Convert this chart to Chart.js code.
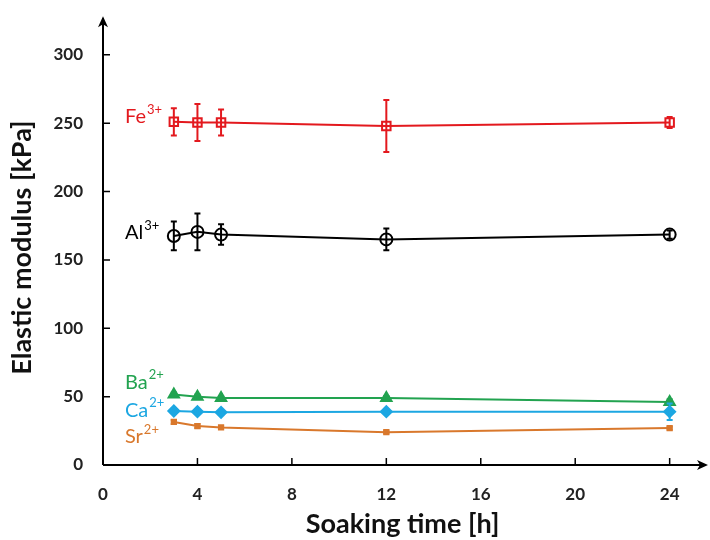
<!DOCTYPE html>
<html>
<head>
<meta charset="utf-8">
<script src="https://cdn.jsdelivr.net/npm/chart.js@4"></script>
<style>
  html, body { margin: 0; padding: 0; background: #fff; }
  #wrap { width: 710px; height: 540px; }
</style>
</head>
<body>
<div id="wrap"><canvas id="chart"></canvas></div>
<script>
const hours = [3, 4, 5, 12, 24];

const fe = [251, 250.5, 250.5, 248, 250.5];
const feErr = [10, 13.5, 9.5, 19, 4];
const al = [167.5, 170.5, 168.5, 165, 168.5];
const alErr = [10.5, 13.5, 7.5, 8, 3];
const ba = [51.5, 50, 49, 49, 46];
const baErr = [1.5, 1.5, 1.5, 1.5, 2];
const ca = [39.5, 39, 38.5, 39, 39];
const caErr = [1.5, 1.5, 1.5, 1.5, 6];
const sr = [31.5, 28.5, 27.5, 24, 27];
const srErr = [1.5, 1.5, 1, 1, 1];

const xTicks = [0, 4, 8, 12, 16, 20, 24];
const yTicks = [0, 50, 100, 150, 200, 250, 300];

// series label: [text, superscript, x value, y value]
const seriesLabels = [
    ['Fe', '3+', 0.93, 255],
    ['Al', '3+', 0.93, 170],
    ['Ba', '2+', 0.93, 60.5],
    ['Ca', '2+', 0.93, 40],
    ['Sr', '2+', 0.93, 20.5]
];

const colors = ['#e3191e', '#000000', '#22a350', '#1ca7e2', '#d9782c'];
const errs = [feErr, alErr, baErr, caErr, srErr];

function toPoints(vals) {
    return hours.map((h, i) => ({x: h, y: vals[i]}));
}

function makeSet(label, vals, color, style, radius, fill) {
    return {
        label: label,
        data: toPoints(vals),
        borderColor: color,
        backgroundColor: color,
        pointStyle: style,
        pointRadius: radius,
        pointBorderWidth: 2,
        pointBackgroundColor: fill ? color : 'rgba(255,255,255,0)',
        pointBorderColor: color,
        borderWidth: 2,
        tension: 0
    };
}

// error bars, axes with arrows, tick marks, series labels
const extras = {
    id: 'extras',
    afterDatasetsDraw(chart) {
        const ctx = chart.ctx;
        const xs = chart.scales.x, ys = chart.scales.y;
        ctx.save();
        chart.data.datasets.forEach((ds, di) => {
            ctx.strokeStyle = colors[di];
            ctx.lineWidth = 2;
            ds.data.forEach((p, i) => {
                const e = errs[di][i];
                const px = xs.getPixelForValue(p.x);
                const top = ys.getPixelForValue(p.y + e);
                const bot = ys.getPixelForValue(p.y - e);
                ctx.beginPath();
                ctx.moveTo(px, top); ctx.lineTo(px, bot);
                ctx.moveTo(px - 3, top); ctx.lineTo(px + 3, top);
                ctx.moveTo(px - 3, bot); ctx.lineTo(px + 3, bot);
                ctx.stroke();
            });
        });

        // axes, arrows reach a little past the chart area
        const ox = xs.getPixelForValue(0), oy = ys.getPixelForValue(0);
        const right = chart.chartArea.right + 6, top = chart.chartArea.top - 14;
        ctx.strokeStyle = '#000';
        ctx.fillStyle = '#000';
        ctx.lineWidth = 2;
        ctx.beginPath();
        ctx.moveTo(ox, oy); ctx.lineTo(right - 2, oy);
        ctx.moveTo(ox, oy); ctx.lineTo(ox, top + 2);
        ctx.stroke();
        ctx.beginPath();
        ctx.moveTo(right, oy); ctx.lineTo(right - 11, oy - 5); ctx.lineTo(right - 8, oy); ctx.lineTo(right - 11, oy + 5);
        ctx.closePath(); ctx.fill();
        ctx.beginPath();
        ctx.moveTo(ox, top); ctx.lineTo(ox - 5, top + 11); ctx.lineTo(ox, top + 8); ctx.lineTo(ox + 5, top + 11);
        ctx.closePath(); ctx.fill();

        ctx.lineWidth = 1.5;
        ctx.beginPath();
        xTicks.slice(1).forEach(v => {
            const px = xs.getPixelForValue(v);
            ctx.moveTo(px, oy); ctx.lineTo(px, oy - 7);
        });
        yTicks.slice(1).forEach(v => {
            const py = ys.getPixelForValue(v);
            ctx.moveTo(ox, py); ctx.lineTo(ox + 7, py);
        });
        ctx.stroke();

        // series labels
        ctx.textBaseline = 'middle';
        ctx.textAlign = 'left';
        seriesLabels.forEach((l, i) => {
            const px = xs.getPixelForValue(l[2]);
            const py = ys.getPixelForValue(l[3]);
            ctx.fillStyle = colors[i];
            ctx.font = '20px Lato';
            ctx.fillText(l[0], px, py);
            const w = ctx.measureText(l[0]).width;
            ctx.font = '13px Lato';
            ctx.fillText(l[1], px + w + 1, py - 7);
        });
        ctx.restore();
    }
};

new Chart(document.getElementById('chart'), {
    type: 'line',
    data: {
        datasets: [
            makeSet('Fe3+', fe, colors[0], 'rect', 6, false),
            makeSet('Al3+', al, colors[1], 'circle', 6, false),
            makeSet('Ba2+', ba, colors[2], 'triangle', 6, true),
            makeSet('Ca2+', ca, colors[3], 'rectRot', 5.5, true),
            makeSet('Sr2+', sr, colors[4], 'rect', 3, true)
        ]
    },
    options: {
        responsive: true,
        maintainAspectRatio: false,
        animation: false,
        layout: { padding: { top: 1, right: 0, left: 0, bottom: 0 } },
        plugins: {
            legend: { display: false },
            tooltip: { enabled: false }
        },
        scales: {
            x: {
                type: 'linear',
                min: 0,
                max: 25.37,
                afterBuildTicks: s => { s.ticks = xTicks.map(v => ({value: v})); },
                afterFit: s => { s.height = 75; },
                grid: { display: false, drawTicks: false },
                border: { display: false },
                ticks: {
                    padding: 19,
                    color: '#222',
                    font: { family: 'Lato', size: 17, weight: 'bold' }
                },
                title: {
                    display: true,
                    text: 'Soaking time [h]',
                    color: '#111',
                    padding: { top: 0, bottom: 0 },
                    font: { family: 'Lato', size: 27, weight: 'bold' }
                }
            },
            y: {
                min: 0,
                max: 318,
                afterBuildTicks: s => { s.ticks = yTicks.map(v => ({value: v})); },
                afterFit: s => { s.width = 103; },
                grid: { display: false, drawTicks: false },
                border: { display: false },
                ticks: {
                    padding: 20,
                    color: '#222',
                    font: { family: 'Lato', size: 17, weight: 'bold' }
                },
                title: {
                    display: true,
                    text: 'Elastic modulus [kPa]',
                    color: '#111',
                    padding: { top: 6, bottom: 0 },
                    font: { family: 'Lato', size: 27, weight: 'bold' }
                }
            }
        }
    },
    plugins: [extras]
});
</script>
</body>
</html>
